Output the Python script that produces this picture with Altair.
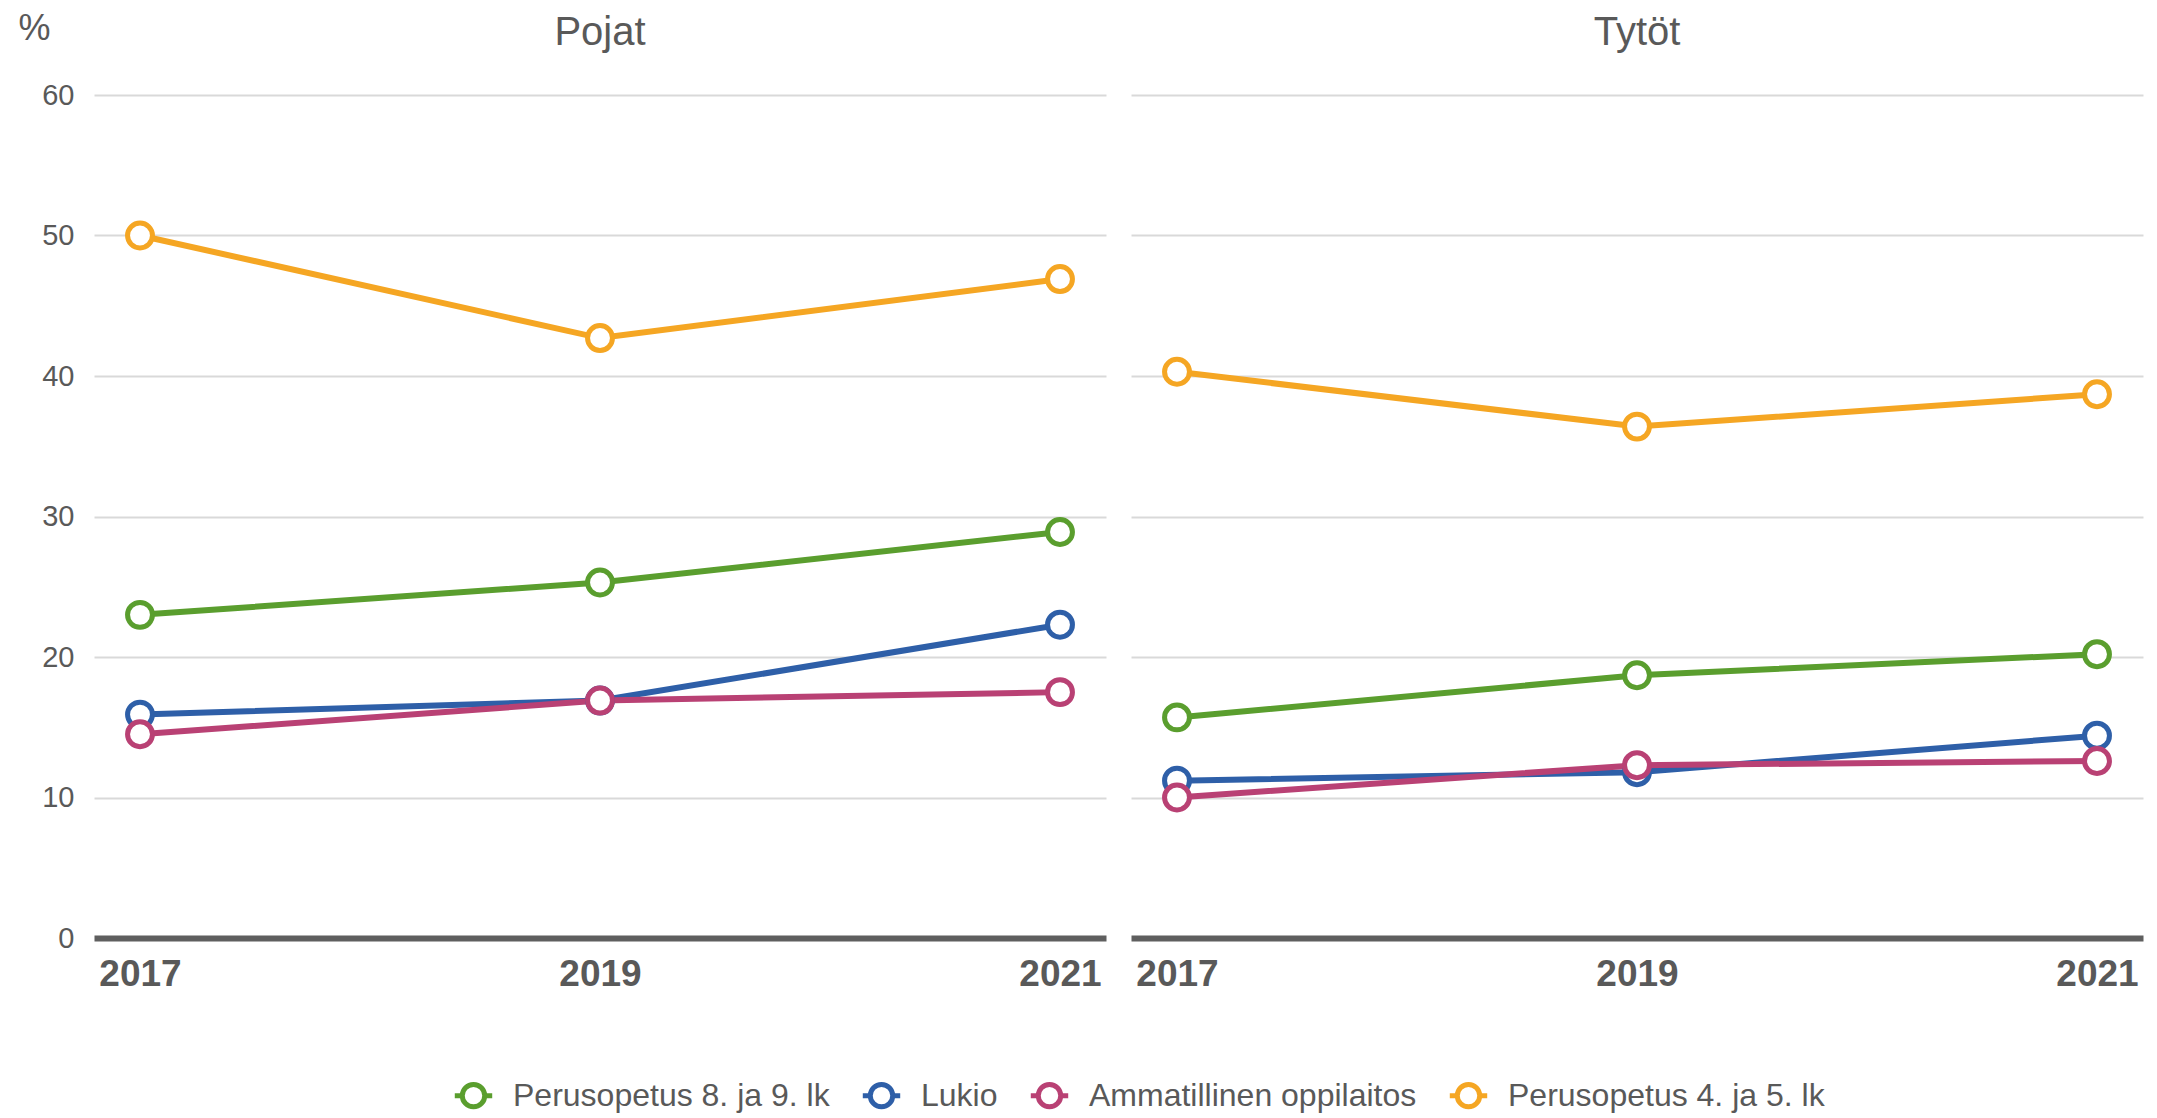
import altair as alt
import pandas as pd

years = [2017, 2019, 2021]
groups = ["Pojat", "Tytöt"]
series = ["Perusopetus 8. ja 9. lk", "Lukio", "Ammatillinen oppilaitos", "Perusopetus 4. ja 5. lk"]
colors = ["#5a9e2e", "#2e5fa8", "#b94174", "#f5a623"]

pojat_perus89 = [23.0, 25.3, 28.9]
pojat_lukio = [15.9, 16.9, 22.3]
pojat_ammat = [14.5, 16.9, 17.5]
pojat_perus45 = [50.0, 42.7, 46.9]

tytot_perus89 = [15.7, 18.7, 20.2]
tytot_lukio = [11.2, 11.8, 14.4]
tytot_ammat = [10.0, 12.3, 12.6]
tytot_perus45 = [40.3, 36.4, 38.7]

values = {
    "Pojat": [pojat_perus89, pojat_lukio, pojat_ammat, pojat_perus45],
    "Tytöt": [tytot_perus89, tytot_lukio, tytot_ammat, tytot_perus45],
}

rows = []
for g in groups:
    for si, s in enumerate(series):
        for yi, yr in enumerate(years):
            rows.append({"ryhma": g, "sarja": s, "vuosi": yr, "arvo": values[g][si][yi]})
df = pd.DataFrame(rows)

FONT = "Liberation Sans"
TXT = "#595959"

symbol_path = "M-1,0L-0.6,0M0.6,0L1,0M-0.6,0A0.6,0.6,0,1,1,0.6,0A0.6,0.6,0,1,1,-0.6,0Z"

series_scale = alt.Scale(domain=series, range=colors)

x = alt.X(
    "vuosi:Q",
    scale=alt.Scale(domain=[2016.8, 2021.2], nice=False, zero=False),
    axis=alt.Axis(
        values=years,
        format="d",
        title=None,
        grid=False,
        ticks=False,
        domainColor="#5f5f5f",
        domainWidth=6,
        labelFontSize=37,
        labelFontWeight="bold",
        labelFont=FONT,
        labelColor=TXT,
        labelPadding=18,
        labelFlush=False,
        zindex=1,
    ),
)

y = alt.Y(
    "arvo:Q",
    scale=alt.Scale(domain=[0, 60], nice=False),
    axis=alt.Axis(
        values=[0, 10, 20, 30, 40, 50, 60],
        title="%",
        titleAngle=0,
        titleFontSize=36,
        titleFontWeight="normal",
        titleFont=FONT,
        titleColor=TXT,
        titleX=-76,
        titleY=-56,
        titleAlign="left",
        titleBaseline="alphabetic",
        domain=False,
        ticks=False,
        gridColor="#d9d9d9",
        gridWidth=2,
        gridOpacity={"condition": {"test": "datum.value === 0", "value": 0}, "value": 1},
        labelFontSize=29,
        labelFont=FONT,
        labelColor=TXT,
        labelPadding=20,
    ),
)

lines = alt.Chart().mark_line(strokeWidth=6).encode(
    x=x, y=y, order="vuosi:Q",
    color=alt.Color(
        "sarja:N",
        scale=series_scale,
        legend=alt.Legend(
            title=None,
            orient="none",
            legendX=358,
            legendY=979,
            direction="horizontal",
            labelFontSize=32,
            labelFont=FONT,
            labelColor=TXT,
            labelLimit=800,
            symbolType=symbol_path,
            symbolSize=1400,
            symbolStrokeWidth=5,
            symbolFillColor="white",
            labelOffset=18,
            columnPadding=22,
        ),
    ),
)

points = alt.Chart().mark_point(filled=False, size=620, strokeWidth=5, opacity=1, shape="circle").encode(
    x=x, y=y,
    fill=alt.value("white"),
    stroke=alt.Stroke("sarja:N", scale=series_scale, legend=None),
)

layer = alt.layer(lines, points, data=df).properties(width=1012, height=843)

chart = layer.facet(
    column=alt.Column(
        "ryhma:N",
        sort=groups,
        title=None,
        header=alt.Header(
            labelFontSize=40,
            labelFont=FONT,
            labelColor=TXT,
            labelBaseline="alphabetic",
            labelPadding=10,
        ),
    ),
    spacing=25,
).properties(
    padding={"left": 10, "top": 2, "right": 5, "bottom": 5}
).configure(font=FONT).configure_view(stroke=None)

chart.save("out.html", embed_options={"renderer": "svg", "actions": False})
